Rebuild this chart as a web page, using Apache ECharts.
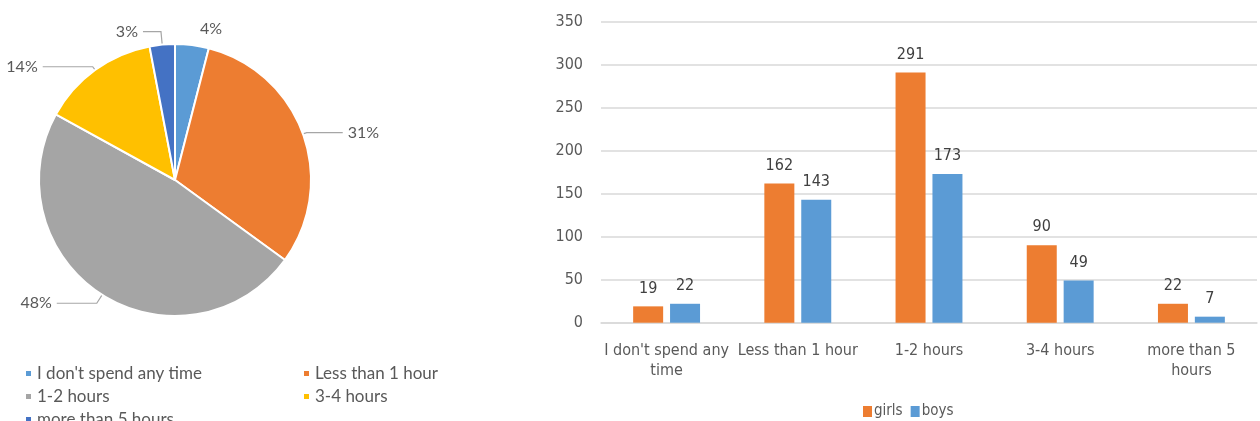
<!DOCTYPE html>
<html>
<head>
<meta charset="utf-8">
<script src="https://cdn.jsdelivr.net/npm/echarts@6/dist/echarts.min.js"></script>
<style>
  html, body { margin: 0; padding: 0; background: #fff; }
  #chart { width: 1260px; height: 421px; }
</style>
</head>
<body>
<div id="chart"></div>
<script>
// pie: share of time spent (percent)
var pieNames = ["I don't spend any time", 'Less than 1 hour', '1-2 hours', '3-4 hours', 'more than 5 hours'];
var pieValues = [4, 31, 48, 14, 3];
var pieColors = ['#5B9BD5', '#ED7D31', '#A5A5A5', '#FFC000', '#4472C4'];

// bars: girls vs boys
var categories = ["I don't spend any time", 'Less than 1 hour', '1-2 hours', '3-4 hours', 'more than 5 hours'];
var tickLabels = ["I don't spend any\ntime", 'Less than 1 hour', '1-2 hours', '3-4 hours', 'more than 5\nhours'];
var girls = [19, 162, 291, 90, 22];
var boys = [22, 143, 173, 49, 7];

var pieFont = 'Lato, "Open Sans", sans-serif';
var barFont = '"Liberation Sans Narrow", "DejaVu Sans Condensed", sans-serif';
var textColor = '#595959';

// leader line shape per slice [length, length2]
var pieLines = [[16, 1], [4, 36], [10, 40], [4, 50], [13, 18]];

var dom = document.getElementById('chart');
var myChart = echarts.init(dom, null, { renderer: 'canvas' });

var pieData = pieNames.map(function (n, i) {
    var item = {
        name: n,
        value: pieValues[i],
        itemStyle: { color: pieColors[i] },
        labelLine: { length: pieLines[i][0], length2: pieLines[i][1] }
    };
    if (i === 0) {
        item.labelLine.lineStyle = { opacity: 0 };
    }
    return item;
});

// two-column legend: left column items get a fixed text width
var legendItems = pieNames.map(function (n, i) {
    var d = { name: n };
    if (i % 2 === 0) {
        d.textStyle = { width: 263 };
    }
    return d;
});

var option = {
    animation: false,
    legend: [
        {
            left: 19,
            top: 358,
            width: 450,
            icon: 'rect',
            itemWidth: 7,
            itemHeight: 7,
            itemGap: 2,
            data: legendItems,
            textStyle: { fontFamily: pieFont, fontSize: 17, lineHeight: 21, color: textColor }
        },
        {
            left: 858,
            top: 399,
            icon: 'rect',
            itemWidth: 9,
            itemHeight: 11,
            itemGap: 8,
            data: ['girls', 'boys'],
            textStyle: { fontFamily: barFont, fontSize: 15, color: textColor, padding: [0, 0, 0, -3] }
        }
    ],
    grid: {
        left: 601,
        right: 3,
        top: 21.7,
        bottom: 98.3
    },
    xAxis: {
        type: 'category',
        data: categories,
        axisLine: { lineStyle: { color: '#D9D9D9', width: 1.5 } },
        axisTick: { show: false },
        axisLabel: {
            interval: 0,
            margin: 18,
            fontFamily: barFont,
            fontSize: 16,
            color: textColor,
            lineHeight: 20,
            formatter: function (v, i) { return tickLabels[i]; }
        }
    },
    yAxis: {
        type: 'value',
        min: 0,
        max: 350,
        interval: 50,
        axisLine: { show: false },
        axisTick: { show: false },
        splitLine: { lineStyle: { color: '#D9D9D9', width: 1.5 } },
        axisLabel: { margin: 18, fontFamily: barFont, fontSize: 16, color: textColor }
    },
    series: [
        {
            type: 'pie',
            center: [175, 180],
            radius: 136,
            startAngle: 90,
            clockwise: true,
            avoidLabelOverlap: false,
            legendHoverLink: false,
            itemStyle: { borderColor: '#fff', borderWidth: 2 },
            label: {
                formatter: '{c}%',
                fontFamily: pieFont,
                fontSize: 16,
                color: textColor
            },
            labelLine: {
                lineStyle: { color: '#A6A6A6', width: 1.2 }
            },
            data: pieData
        },
        {
            name: 'girls',
            type: 'bar',
            data: girls,
            barWidth: 30,
            barGap: '23%',
            itemStyle: { color: '#ED7D31' },
            label: { show: true, position: 'top', distance: 10, fontFamily: barFont, fontSize: 16, color: '#404040' }
        },
        {
            name: 'boys',
            type: 'bar',
            data: boys,
            barWidth: 30,
            itemStyle: { color: '#5B9BD5' },
            label: { show: true, position: 'top', distance: 10, fontFamily: barFont, fontSize: 16, color: '#404040' }
        }
    ]
};

if (option && typeof option === 'object') {
    myChart.setOption(option);
}

window.addEventListener('resize', myChart.resize);
</script>
</body>
</html>
